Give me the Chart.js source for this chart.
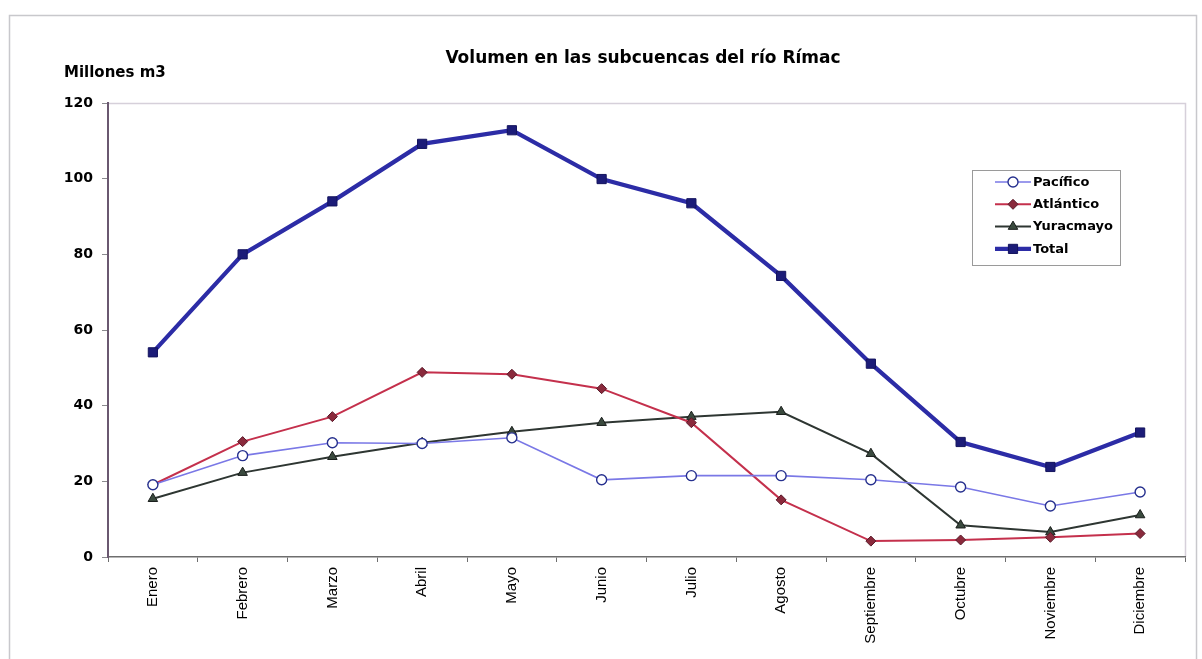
<!DOCTYPE html>
<html>
<head>
<meta charset="utf-8">
<title>Volumen en las subcuencas del río Rímac</title>
<script src="https://cdn.jsdelivr.net/npm/chart.js@4/dist/chart.umd.min.js"></script>
<style>
  html, body { margin: 0; padding: 0; background: #ffffff; }
  canvas { display: block; }
</style>
</head>
<body>
<canvas id="grafico" width="1202" height="659"></canvas>
<script>
// Meses del año hidrológico
const meses = ['Enero', 'Febrero', 'Marzo', 'Abril', 'Mayo', 'Junio', 'Julio',
               'Agosto', 'Septiembre', 'Octubre', 'Noviembre', 'Diciembre'];

// Volumen mensual por subcuenca (millones de m3)
const pacifico  = [19.1, 26.8, 30.2, 30.0, 31.5, 20.4, 21.5, 21.5, 20.4, 18.5, 13.5, 17.2];
const atlantico = [19.1, 30.5, 37.1, 48.8, 48.3, 44.5, 35.5, 15.1, 4.2, 4.5, 5.2, 6.2];
const yuracmayo = [15.4, 22.3, 26.5, 30.2, 33.1, 35.5, 37.1, 38.4, 27.3, 8.4, 6.6, 11.1];
const total     = [54.1, 80.0, 94.0, 109.2, 112.8, 99.9, 93.5, 74.3, 51.1, 30.4, 23.8, 32.9];

// Marcas del eje vertical
const ticksY = [0, 20, 40, 60, 80, 100, 120];

const FONT_BOLD = '"DejaVu Sans", "Liberation Sans", Arial, sans-serif';
const FONT = '"Liberation Sans", Arial, sans-serif';

// Fondo, marco exterior y borde del área de trazado
const marcoPlugin = {
  id: 'marco',
  beforeDraw(chart) {
    const ctx = chart.ctx;
    const a = chart.chartArea;
    ctx.save();
    ctx.fillStyle = '#ffffff';
    ctx.fillRect(0, 0, chart.width, chart.height);
    ctx.strokeStyle = '#c8c8cc';
    ctx.lineWidth = 1.5;
    ctx.strokeRect(9.5, 15.5, 1187, 680);
    ctx.strokeStyle = '#d6d0da';
    ctx.lineWidth = 1.5;
    ctx.beginPath();
    ctx.moveTo(a.left, a.top + 0.5);
    ctx.lineTo(a.right + 0.5, a.top + 0.5);
    ctx.lineTo(a.right + 0.5, a.bottom);
    ctx.stroke();
    ctx.restore();
  }
};

// Título del gráfico y rótulo de unidades
const textosPlugin = {
  id: 'textos',
  afterDraw(chart) {
    const ctx = chart.ctx;
    ctx.save();
    ctx.fillStyle = '#000000';
    ctx.textBaseline = 'middle';
    ctx.font = 'bold 17px ' + FONT_BOLD;
    ctx.textAlign = 'center';
    ctx.fillText('Volumen en las subcuencas del río Rímac', 643, 59);
    ctx.font = 'bold 15px ' + FONT_BOLD;
    ctx.textAlign = 'left';
    ctx.fillText('Millones m3', 64, 73);
    ctx.restore();
  }
};

// Leyenda con línea y marcador de cada serie
const leyendaPlugin = {
  id: 'leyendaSeries',
  afterDraw(chart) {
    const ctx = chart.ctx;
    const x0 = 972, y0 = 170, w = 148, h = 95;
    ctx.save();
    ctx.fillStyle = '#ffffff';
    ctx.fillRect(x0, y0, w, h);
    ctx.strokeStyle = '#9a9a9a';
    ctx.lineWidth = 1;
    ctx.strokeRect(x0 + 0.5, y0 + 0.5, w, h);
    chart.data.datasets.forEach((ds, i) => {
      const y = 182 + i * 22.3;
      ctx.strokeStyle = ds.borderColor;
      ctx.lineWidth = ds.borderWidth;
      ctx.beginPath();
      ctx.moveTo(995, y);
      ctx.lineTo(1031, y);
      ctx.stroke();
      ctx.fillStyle = ds.pointBackgroundColor;
      ctx.strokeStyle = ds.pointBorderColor;
      ctx.lineWidth = ds.pointBorderWidth;
      Chart.helpers.drawPoint(ctx, {
        pointStyle: ds.pointStyle,
        radius: ds.pointRadius,
        rotation: 0,
        borderWidth: ds.pointBorderWidth
      }, 1013, y);
      ctx.fillStyle = '#000000';
      ctx.font = 'bold 13px ' + FONT_BOLD;
      ctx.textAlign = 'left';
      ctx.textBaseline = 'middle';
      ctx.fillText(ds.label, 1033, y + 0.5);
    });
    ctx.restore();
  }
};

new Chart(document.getElementById('grafico'), {
  type: 'line',
  data: {
    labels: meses,
    datasets: [
      {
        label: 'Pacífico',
        data: pacifico,
        borderColor: '#7a78e6',
        borderWidth: 1.6,
        pointStyle: 'circle',
        pointRadius: 5,
        pointBackgroundColor: '#ffffff',
        pointBorderColor: '#26308e',
        pointBorderWidth: 1.4,
        tension: 0
      },
      {
        label: 'Atlántico',
        data: atlantico,
        borderColor: '#c4304c',
        borderWidth: 2,
        pointStyle: 'rectRot',
        pointRadius: 5,
        pointBackgroundColor: '#8a2a3c',
        pointBorderColor: '#5a1a2a',
        pointBorderWidth: 1,
        tension: 0
      },
      {
        label: 'Yuracmayo',
        data: yuracmayo,
        borderColor: '#2e3632',
        borderWidth: 2,
        pointStyle: 'triangle',
        pointRadius: 5.5,
        pointBackgroundColor: '#3a4a3e',
        pointBorderColor: '#1a1e1c',
        pointBorderWidth: 1,
        tension: 0
      },
      {
        label: 'Total',
        data: total,
        borderColor: '#2c2ca6',
        borderWidth: 4.2,
        pointStyle: 'rect',
        pointRadius: 6.5,
        pointBackgroundColor: '#1c1c78',
        pointBorderColor: '#14145e',
        pointBorderWidth: 1,
        tension: 0
      }
    ]
  },
  options: {
    responsive: false,
    animation: false,
    devicePixelRatio: 1,
    layout: { padding: { top: 103, right: 17, left: 0, bottom: 0 } },
    plugins: {
      legend: { display: false },
      title: { display: false },
      tooltip: { enabled: false }
    },
    scales: {
      x: {
        type: 'category',
        offset: true,
        grid: {
          offset: true,
          drawOnChartArea: false,
          drawTicks: true,
          tickLength: 5,
          color: '#6e6e6e'
        },
        border: { display: true, color: '#6e6e6e', width: 1.5 },
        ticks: {
          maxRotation: 90,
          minRotation: 90,
          autoSkip: false,
          padding: 5,
          color: '#000000',
          font: { family: FONT, size: 15 }
        },
        afterFit(scale) { scale.height = 102; }
      },
      y: {
        min: 0,
        max: 120,
        afterBuildTicks(scale) { scale.ticks = ticksY.map(v => ({ value: v })); },
        grid: {
          drawOnChartArea: false,
          drawTicks: true,
          tickLength: 6,
          color: '#8a8a8e'
        },
        border: { display: true, color: '#6a5870', width: 2 },
        ticks: {
          padding: 9,
          color: '#000000',
          font: { family: FONT_BOLD, size: 14, weight: 'bold' }
        },
        afterFit(scale) { scale.width = 108; }
      }
    }
  },
  plugins: [marcoPlugin, textosPlugin, leyendaPlugin]
});
</script>
</body>
</html>
